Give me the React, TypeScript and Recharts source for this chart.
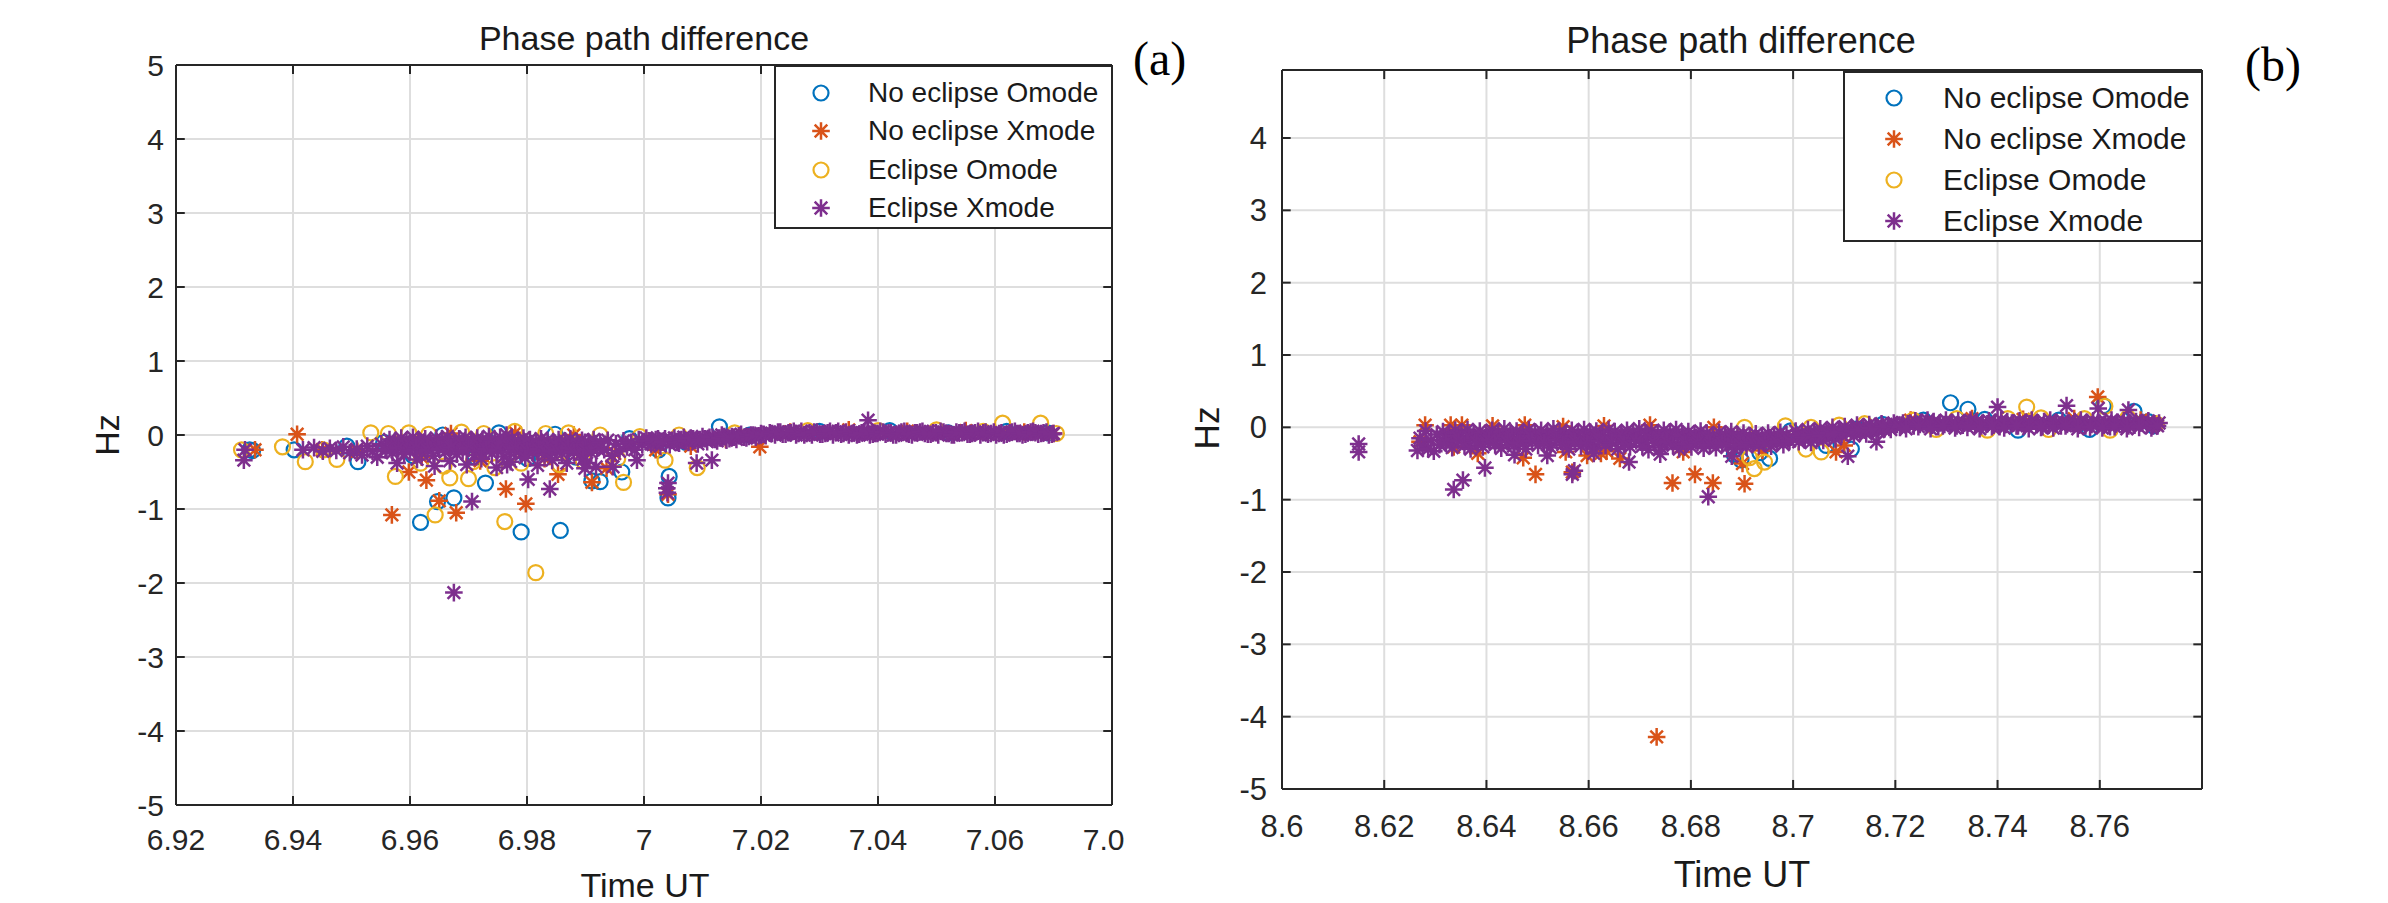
import React from "react";
import { ScatterChart, Scatter, XAxis, YAxis, CartesianGrid, ReferenceLine, Legend } from "recharts";

type Pt = [number, number];

const SERIES = ["No eclipse Omode", "No eclipse Xmode", "Eclipse Omode", "Eclipse Xmode"];
const COLORS = ["#0072BD", "#D95319", "#EDB120", "#7E2F8E"];
const MARKERS = ["o", "*", "o", "*"];

const FONT = "'Liberation Sans', Arial, Helvetica, sans-serif";
const SERIF = "'Liberation Serif', 'Times New Roman', serif";
const AXIS = "#262626";

// ---- panel (a): 6.92 - 7.08 UT ----
const aXTicks = [6.92, 6.94, 6.96, 6.98, 7.0, 7.02, 7.04, 7.06, 7.08];
const aYTicks = [-5, -4, -3, -2, -1, 0, 1, 2, 3, 4, 5];

const aNoO: Pt[] = [
  [6.9326,-0.2],[6.9331,-0.21],[6.9402,-0.2],[6.9492,-0.15],[6.9511,-0.36],[6.9555,-0.1],[6.9605,-0.28],
  [6.9618,-1.18],[6.9647,-0.9],[6.9656,0.0],[6.9675,-0.85],[6.9712,-0.3],[6.9729,-0.65],[6.9752,0.03],
  [6.979,-1.31],[6.9801,-0.32],[6.9848,0.01],[6.9857,-1.29],[6.9884,-0.3],[6.9911,-0.62],[6.9925,-0.63],
  [6.9962,-0.5],[6.9975,-0.05],[7.0025,-0.2],[7.0041,-0.85],[7.0043,-0.56],[7.0072,-0.1],[7.0129,0.11],
  [7.018,0.0],[7.03,0.05],[7.042,0.06],[7.052,0.03],[7.062,0.05],[7.069,0.03],
];

const aNoX: Pt[] = [
  [6.9335,-0.2],[6.9407,0.01],[6.945,-0.2],[6.951,-0.22],[6.9569,-1.08],[6.9585,-0.1],[6.9598,-0.5],
  [6.962,-0.3],[6.9628,-0.61],[6.965,-0.89],[6.967,0.02],[6.9679,-1.05],[6.972,-0.35],[6.9764,-0.73],
  [6.978,0.03],[6.9798,-0.93],[6.983,-0.32],[6.9853,-0.53],[6.988,0.0],[6.9911,-0.64],[6.9936,-0.45],
  [6.995,-0.25],[7.002,-0.2],[7.0041,-0.8],[7.008,-0.15],[7.014,-0.06],[7.0198,-0.16],[7.025,0.04],
  [7.035,0.07],[7.045,0.05],[7.055,0.06],[7.065,0.04],[7.07,0.02],
];

const aEclO: Pt[] = [
  [6.9312,-0.2],[6.9382,-0.16],[6.9421,-0.36],[6.9452,-0.2],[6.9475,-0.33],[6.9533,0.03],[6.9563,0.02],
  [6.9575,-0.56],[6.9598,0.03],[6.9618,-0.38],[6.9632,0.01],[6.9643,-1.08],[6.9658,-0.42],[6.9668,-0.58],
  [6.9688,0.04],[6.97,-0.59],[6.9708,-0.36],[6.9726,0.02],[6.9745,-0.44],[6.9762,-1.17],[6.9779,0.05],
  [6.979,-0.38],[6.9815,-1.86],[6.9832,0.02],[6.9856,-0.4],[6.9871,0.03],[6.9896,-0.35],[6.9925,0.0],
  [6.9955,-0.32],[6.9965,-0.64],[6.9993,-0.02],[7.0036,-0.34],[7.006,0.0],[7.0091,-0.44],[7.0155,0.03],
  [7.028,0.06],[7.04,0.06],[7.05,0.07],[7.058,0.05],[7.0613,0.16],[7.0678,0.16],[7.0705,0.02],
];

const aEclXLead: Pt[] = [
  [6.9316,-0.34],[6.9318,-0.2],[6.9417,-0.2],[6.9436,-0.17],[6.9451,-0.22],[6.9463,-0.18],[6.9474,-0.21],
  [6.9486,-0.16],[6.9497,-0.24],[6.9509,-0.19],[6.9518,-0.27],[6.9527,-0.15],[6.9536,-0.22],[6.9544,-0.3],
  [6.9551,-0.12],[6.9558,-0.2],
];
const aEclXUpper: Pt[] = [
  [6.9565,-0.06],[6.9574,-0.09],[6.9585,-0.04],[6.9594,-0.08],[6.9605,-0.03],[6.9614,-0.07],[6.9626,-0.05],
  [6.9634,-0.1],[6.9645,-0.04],[6.9655,-0.06],[6.9664,-0.02],[6.9675,-0.08],[6.9684,-0.05],[6.9695,-0.03],
  [6.9704,-0.09],[6.9715,-0.04],[6.9724,-0.06],[6.9735,-0.02],[6.9745,-0.07],[6.9754,-0.03],[6.9765,0.0],
  [6.9774,-0.05],[6.9785,-0.08],[6.9794,-0.04],[6.9805,-0.06],[6.9815,-0.09],[6.9824,-0.05],[6.9835,-0.07],
  [6.9845,-0.1],[6.9854,-0.06],[6.9865,-0.08],[6.9874,-0.05],[6.9885,-0.09],[6.9894,-0.07],[6.9905,-0.1],
  [6.9914,-0.06],
];
const aEclXMid: Pt[] = [
  [6.9568,-0.13],[6.9579,-0.11],[6.9587,-0.15],[6.9599,-0.12],[6.9608,-0.16],[6.9617,-0.1],[6.9629,-0.14],
  [6.9637,-0.12],[6.9648,-0.15],[6.9659,-0.13],[6.9667,-0.11],[6.9678,-0.16],[6.9689,-0.12],[6.9697,-0.14],
  [6.9708,-0.1],[6.9719,-0.15],[6.9727,-0.13],[6.9738,-0.12],[6.9749,-0.16],[6.9757,-0.11],[6.9768,-0.14],
  [6.9779,-0.13],[6.9787,-0.15],[6.9798,-0.1],[6.9809,-0.12],[6.9817,-0.16],[6.9828,-0.13],[6.9839,-0.14],
  [6.9847,-0.11],[6.9858,-0.15],[6.9869,-0.12],[6.9877,-0.16],[6.9888,-0.13],[6.9899,-0.1],[6.9907,-0.14],
  [6.9918,-0.12],
];
const aEclXLower: Pt[] = [
  [6.956,-0.2],[6.957,-0.24],[6.958,-0.18],[6.959,-0.26],[6.96,-0.21],[6.961,-0.17],[6.962,-0.25],
  [6.963,-0.2],[6.964,-0.28],[6.965,-0.19],[6.966,-0.23],[6.967,-0.17],[6.968,-0.26],[6.969,-0.21],
  [6.97,-0.18],[6.971,-0.27],[6.972,-0.22],[6.973,-0.19],[6.974,-0.25],[6.975,-0.2],[6.976,-0.29],
  [6.977,-0.23],[6.978,-0.18],[6.979,-0.26],[6.98,-0.21],[6.981,-0.24],[6.982,-0.19],[6.983,-0.27],
  [6.984,-0.22],[6.985,-0.2],[6.986,-0.25],[6.987,-0.18],[6.988,-0.23],[6.989,-0.27],[6.99,-0.2],
  [6.991,-0.24],[6.992,-0.18],
];
const aEclXSparse: Pt[] = [
  [6.9578,-0.38],[6.9612,-0.33],[6.9642,-0.42],[6.9668,-0.35],[6.9697,-0.4],[6.9722,-0.32],[6.9748,-0.44],
  [6.9766,-0.4],[6.9772,-0.36],[6.9797,-0.31],[6.9818,-0.41],[6.9843,-0.34],[6.9868,-0.38],[6.9896,-0.33],
  [6.9902,-0.38],[6.9918,-0.43],
];
const aEclXRise: Pt[] = [
  [6.9925,-0.1],[6.9932,-0.2],[6.9938,-0.07],[6.9945,-0.28],[6.9947,-0.43],[6.9952,-0.12],[6.9958,-0.22],
  [6.9965,-0.08],[6.9971,-0.16],[6.9978,-0.1],[6.9984,-0.2],[6.9988,-0.34],[6.9991,-0.06],[6.9997,-0.13],
  [7.0004,-0.04],[7.0012,-0.12],[7.002,-0.06],[7.0028,-0.15],[7.0036,-0.05],[7.0039,-0.72],[7.004,-0.78],
  [7.0041,-0.65],[7.0044,-0.13],[7.0052,-0.04],[7.006,-0.11],[7.0068,-0.03],[7.0076,-0.1],[7.0084,-0.05],
  [7.009,-0.38],[7.0092,-0.12],[7.01,-0.02],[7.0108,-0.09],[7.0116,-0.34],[7.0117,-0.03],[7.0125,-0.08],
  [7.0133,0.0],[7.0141,-0.07],[7.015,-0.02],[7.0158,-0.06],[7.0166,0.01],[7.0175,-0.04],[7.0183,0.0],
  [7.0191,-0.03],[7.02,0.02],[7.0208,-0.01],
];
const aEclXRiseMid: Pt[] = [
  [7.0008,-0.08],[7.0016,-0.1],[7.0024,-0.05],[7.0032,-0.09],[7.0048,-0.07],[7.0056,-0.1],[7.0064,-0.06],
  [7.0072,-0.08],[7.008,-0.04],[7.0088,-0.07],[7.0096,-0.06],[7.0104,-0.05],[7.0112,-0.03],[7.0121,-0.06],
  [7.0129,-0.04],[7.0137,-0.02],[7.0146,-0.05],[7.0154,-0.03],[7.0162,-0.01],[7.0171,-0.03],[7.0179,-0.02],
  [7.0187,0.0],[7.0196,-0.01],[7.0204,0.01],
];
const aEclXFlat: Pt[] = [
  [7.0215,0.03],[7.0224,0.0],[7.0233,0.04],[7.0242,0.01],[7.0251,0.03],[7.026,0.0],[7.0269,0.05],
  [7.0278,0.02],[7.0287,0.0],[7.0296,0.04],[7.0305,0.01],[7.0314,0.03],[7.0323,0.0],[7.0332,0.05],
  [7.0341,0.02],[7.035,0.0],[7.0359,0.03],[7.0368,0.01],[7.0377,0.04],[7.0383,0.2],[7.0386,0.0],
  [7.0395,0.02],[7.0404,0.05],[7.0413,0.01],[7.0422,0.03],[7.0431,0.0],[7.044,0.04],[7.0449,0.02],
  [7.0458,0.0],[7.0467,0.03],[7.0476,0.05],[7.0485,0.01],[7.0494,0.03],[7.0503,0.0],[7.0512,0.04],
  [7.0521,0.02],[7.053,0.0],[7.0539,0.03],[7.0548,0.05],[7.0557,0.01],[7.0566,0.03],[7.0575,0.0],
  [7.0584,0.04],[7.0593,0.02],[7.0602,0.0],[7.0611,0.03],[7.062,0.01],[7.0629,0.04],[7.0638,0.02],
  [7.0647,0.0],[7.0656,0.03],[7.0665,0.05],[7.0674,0.01],[7.0683,0.03],[7.0692,0.0],[7.07,0.02],
];
const aEclXFlat2: Pt[] = [
  [7.0219,0.02],[7.0229,0.04],[7.0237,0.01],[7.0247,0.03],[7.0256,0.05],[7.0264,0.02],[7.0274,0.0],
  [7.0283,0.03],[7.0291,0.04],[7.0301,0.01],[7.031,0.02],[7.0318,0.05],[7.0328,0.03],[7.0337,0.01],
  [7.0345,0.04],[7.0355,0.02],[7.0364,0.0],[7.0372,0.03],[7.0382,0.05],[7.0391,0.01],[7.0399,0.02],
  [7.0409,0.04],[7.0418,0.03],[7.0426,0.0],[7.0436,0.02],[7.0445,0.05],[7.0453,0.01],[7.0463,0.03],
  [7.0472,0.04],[7.048,0.02],[7.049,0.01],[7.0499,0.03],[7.0507,0.05],[7.0517,0.02],[7.0526,0.0],
  [7.0534,0.04],[7.0544,0.03],[7.0553,0.01],[7.0561,0.02],[7.0571,0.05],[7.058,0.03],[7.0588,0.01],
  [7.0598,0.04],[7.0607,0.02],[7.0615,0.0],[7.0625,0.03],[7.0634,0.05],[7.0642,0.02],[7.0652,0.01],
  [7.0661,0.04],[7.0669,0.03],[7.0679,0.02],[7.0688,0.04],[7.0697,0.01],
];
const aEclXOut: Pt[] = [
  [6.9675,-2.13],[6.9706,-0.9],[6.9802,-0.6],[6.9839,-0.73],[6.9899,-0.45],
];
const aEclX: Pt[] = [
  ...aEclXLead, ...aEclXUpper, ...aEclXMid, ...aEclXLower, ...aEclXSparse,
  ...aEclXRise, ...aEclXRiseMid, ...aEclXFlat, ...aEclXFlat2, ...aEclXOut,
];

// ---- panel (b): 8.60 - 8.78 UT ----
const bXTicks = [8.6, 8.62, 8.64, 8.66, 8.68, 8.7, 8.72, 8.74, 8.76];
const bYTicks = [-5, -4, -3, -2, -1, 0, 1, 2, 3, 4];

const bNoO: Pt[] = [
  [8.6885,-0.38],[8.6898,-0.45],[8.6935,-0.35],[8.6954,-0.43],[8.6995,-0.05],[8.7065,-0.25],[8.7114,-0.3],
  [8.7125,-0.02],[8.7175,0.04],[8.7255,0.1],[8.7308,0.34],[8.7342,0.25],[8.7375,0.11],[8.744,-0.04],
  [8.752,0.1],[8.758,-0.03],[8.7607,0.3],[8.7667,0.22],[8.7695,0.08],[8.7705,0.02],
];

const bNoX: Pt[] = [
  [8.627,-0.2],[8.628,0.03],[8.633,0.03],[8.6336,-0.27],[8.6352,0.03],[8.6383,-0.36],[8.6412,0.02],
  [8.6472,-0.42],[8.6475,0.03],[8.6496,-0.65],[8.655,0.01],[8.6555,-0.34],[8.6568,-0.62],[8.6597,-0.39],
  [8.6624,-0.36],[8.663,0.02],[8.6635,-0.33],[8.6661,-0.43],[8.672,0.03],[8.6733,-4.28],[8.6764,-0.77],
  [8.6785,-0.34],[8.6808,-0.65],[8.6843,-0.77],[8.6845,0.0],[8.6901,-0.5],[8.6905,-0.78],[8.694,-0.32],
  [8.7084,-0.34],[8.71,-0.25],[8.723,0.1],[8.735,0.12],[8.745,0.11],[8.755,0.12],[8.7596,0.42],
  [8.768,0.1],[8.771,0.04],
];

const bEclO: Pt[] = [
  [8.6905,0.0],[8.6915,-0.42],[8.6924,-0.57],[8.6944,-0.48],[8.6985,0.02],[8.7025,-0.3],[8.7035,0.0],
  [8.7055,-0.34],[8.709,0.03],[8.714,0.05],[8.7235,0.1],[8.728,-0.03],[8.732,0.12],[8.738,-0.04],
  [8.742,0.12],[8.7457,0.28],[8.7485,0.13],[8.75,-0.03],[8.757,0.12],[8.761,0.29],[8.762,-0.04],
  [8.7655,0.13],[8.771,0.05],
];

const bEclXLead: Pt[] = [
  [8.615,-0.23],[8.615,-0.34],[8.6265,-0.32],[8.627,-0.15],[8.6275,-0.25],[8.6281,-0.05],[8.6286,-0.3],
  [8.6292,-0.18],[8.6297,-0.33],[8.6303,-0.1],[8.6308,-0.24],
];
const bEclXUpper: Pt[] = [
  [8.6315,-0.06],[8.6327,-0.1],[8.6339,-0.04],[8.6351,-0.08],[8.6363,-0.03],[8.6375,-0.09],[8.6387,-0.05],
  [8.6399,-0.11],[8.6411,-0.04],[8.6423,-0.07],[8.6435,-0.02],[8.6447,-0.08],[8.6459,-0.05],[8.6471,-0.1],
  [8.6483,-0.03],[8.6495,-0.07],[8.6507,-0.04],[8.6519,-0.09],[8.6531,-0.02],[8.6543,-0.06],[8.6555,-0.1],
  [8.6567,-0.04],[8.6579,-0.08],[8.6591,-0.03],[8.6603,-0.07],[8.6615,-0.05],[8.6627,-0.1],[8.6639,-0.03],
  [8.6651,-0.06],[8.6663,-0.09],[8.6675,-0.04],[8.6687,-0.07],[8.6699,-0.02],[8.6711,-0.08],[8.6723,-0.05],
  [8.6735,-0.1],[8.6747,-0.04],[8.6759,-0.07],[8.6771,-0.03],[8.6783,-0.09],[8.6795,-0.06],[8.6807,-0.1],
  [8.6819,-0.05],[8.6831,-0.08],[8.6843,-0.12],[8.6855,-0.07],[8.6867,-0.1],[8.6879,-0.06],[8.6891,-0.11],
  [8.6903,-0.08],[8.6915,-0.12],[8.6927,-0.09],[8.6939,-0.13],[8.6951,-0.08],[8.6963,-0.11],[8.6975,-0.07],
  [8.6987,-0.1],
];
const bEclXMid: Pt[] = [
  [8.6318,-0.14],[8.633,-0.17],[8.6342,-0.12],[8.6354,-0.16],[8.6366,-0.13],[8.6378,-0.18],[8.639,-0.15],
  [8.6402,-0.12],[8.6414,-0.17],[8.6426,-0.14],[8.6438,-0.16],[8.645,-0.13],[8.6462,-0.19],[8.6474,-0.15],
  [8.6486,-0.12],[8.6498,-0.16],[8.651,-0.14],[8.6522,-0.18],[8.6534,-0.13],[8.6546,-0.15],[8.6558,-0.17],
  [8.657,-0.12],[8.6582,-0.16],[8.6594,-0.14],[8.6606,-0.19],[8.6618,-0.13],[8.663,-0.15],[8.6642,-0.17],
  [8.6654,-0.14],[8.6666,-0.12],[8.6678,-0.18],[8.669,-0.15],[8.6702,-0.16],[8.6714,-0.13],[8.6726,-0.17],
  [8.6738,-0.14],[8.675,-0.19],[8.6762,-0.15],[8.6774,-0.13],[8.6786,-0.16],[8.6798,-0.18],[8.681,-0.14],
  [8.6822,-0.17],[8.6834,-0.15],[8.6846,-0.19],[8.6858,-0.16],[8.687,-0.14],[8.6882,-0.18],[8.6894,-0.17],
  [8.6906,-0.15],[8.6918,-0.19],[8.693,-0.16],[8.6942,-0.18],[8.6954,-0.15],[8.6966,-0.17],[8.6978,-0.14],
  [8.699,-0.16],
];
const bEclXLower: Pt[] = [
  [8.6321,-0.22],[8.6333,-0.28],[8.6345,-0.19],[8.6357,-0.25],[8.6369,-0.3],[8.6381,-0.21],[8.6393,-0.27],
  [8.6405,-0.18],[8.6417,-0.24],[8.6429,-0.29],[8.6441,-0.2],[8.6453,-0.26],[8.6465,-0.22],[8.6477,-0.3],
  [8.6489,-0.19],[8.6501,-0.25],[8.6513,-0.21],[8.6525,-0.28],[8.6537,-0.18],[8.6549,-0.24],[8.6561,-0.3],
  [8.6573,-0.2],[8.6585,-0.26],[8.6597,-0.22],[8.6609,-0.29],[8.6621,-0.19],[8.6633,-0.25],[8.6645,-0.21],
  [8.6657,-0.3],[8.6669,-0.23],[8.6681,-0.27],[8.6693,-0.19],[8.6705,-0.26],[8.6717,-0.31],[8.6729,-0.22],
  [8.6741,-0.28],[8.6753,-0.2],[8.6765,-0.25],[8.6777,-0.3],[8.6789,-0.23],[8.6801,-0.27],[8.6813,-0.21],
  [8.6825,-0.29],[8.6837,-0.24],[8.6849,-0.28],[8.6861,-0.22],[8.6873,-0.26],[8.6885,-0.3],[8.6897,-0.24],
  [8.6909,-0.27],[8.6921,-0.21],[8.6933,-0.25],[8.6945,-0.22],[8.6957,-0.26],[8.6969,-0.2],[8.6981,-0.24],
  [8.6993,-0.19],
];
const bEclXSparse: Pt[] = [
  [8.6336,-0.86],[8.6354,-0.73],[8.6397,-0.56],[8.6455,-0.38],[8.6519,-0.39],[8.6568,-0.65],[8.6572,-0.6],
  [8.661,-0.36],[8.6679,-0.48],[8.674,-0.37],[8.6834,-0.96],[8.688,-0.4],
];
const bEclXRise: Pt[] = [
  [8.7005,-0.05],[8.7017,-0.08],[8.7029,-0.03],[8.7041,-0.06],[8.7053,-0.02],[8.7065,-0.05],[8.7077,0.0],
  [8.7089,-0.04],[8.7101,0.01],[8.7113,-0.02],[8.7125,0.03],[8.7137,0.0],[8.7149,0.04],[8.7161,0.01],
  [8.7173,0.05],[8.7185,0.02],[8.7197,0.06],
  [8.7011,-0.2],[8.7023,-0.17],[8.7035,-0.21],[8.7047,-0.15],[8.7059,-0.18],[8.7071,-0.13],[8.7083,-0.16],
  [8.7095,-0.1],[8.7107,-0.4],[8.7119,-0.12],[8.7131,-0.07],[8.7143,-0.09],[8.7155,-0.04],[8.7163,-0.2],
  [8.7167,-0.06],[8.7179,-0.02],[8.7191,-0.03],
  [8.7008,-0.12],[8.702,-0.14],[8.7032,-0.11],[8.7044,-0.1],[8.7056,-0.12],[8.7068,-0.08],[8.708,-0.09],
  [8.7092,-0.06],[8.7104,-0.07],[8.7116,-0.05],[8.7128,-0.03],[8.714,-0.04],[8.7152,-0.01],[8.7164,-0.02],
  [8.7176,0.01],[8.7188,0.0],[8.72,0.02],
];
const bEclXFlatTop: Pt[] = [
  [8.7203,0.04],[8.7215,0.06],[8.7227,0.05],[8.7239,0.09],[8.7251,0.07],[8.7263,0.1],[8.7275,0.08],
  [8.7287,0.06],[8.7299,0.1],[8.7311,0.07],[8.7323,0.09],[8.7335,0.06],[8.7347,0.1],[8.7359,0.08],
  [8.7371,0.06],[8.7383,0.09],[8.7395,0.07],[8.7407,0.1],[8.7419,0.08],[8.7431,0.06],[8.7443,0.09],
  [8.7455,0.07],[8.7467,0.1],[8.7479,0.06],[8.7491,0.08],[8.7503,0.1],[8.7515,0.07],[8.7527,0.09],
  [8.7539,0.06],[8.7551,0.08],[8.7563,0.1],[8.7575,0.07],[8.7587,0.09],[8.7599,0.06],[8.7611,0.08],
  [8.7623,0.1],[8.7635,0.07],[8.7647,0.09],[8.7659,0.06],[8.7671,0.08],[8.7683,0.07],[8.7695,0.09],
  [8.7707,0.05],[8.7716,0.06],
];
const bEclXFlatMid: Pt[] = [
  [8.7212,0.03],[8.7224,0.05],[8.7236,0.02],[8.7248,0.04],[8.726,0.06],[8.7272,0.03],[8.7284,0.01],
  [8.7296,0.04],[8.7308,0.05],[8.732,0.02],[8.7332,0.03],[8.7344,0.06],[8.7356,0.04],[8.7368,0.02],
  [8.738,0.05],[8.7392,0.03],[8.7404,0.01],[8.7416,0.04],[8.7428,0.06],[8.744,0.02],[8.7452,0.03],
  [8.7464,0.05],[8.7476,0.04],[8.7488,0.01],[8.75,0.03],[8.7512,0.06],[8.7524,0.02],[8.7536,0.04],
  [8.7548,0.05],[8.756,0.03],[8.7572,0.02],[8.7584,0.04],[8.7596,0.06],[8.7608,0.03],[8.762,0.01],
  [8.7632,0.05],[8.7644,0.04],[8.7656,0.02],[8.7668,0.03],[8.768,0.06],[8.7692,0.04],[8.7704,0.02],
];
const bEclXFlatLow: Pt[] = [
  [8.7209,0.0],[8.7221,-0.02],[8.7245,0.01],[8.7269,-0.02],[8.7293,0.02],[8.7317,-0.01],[8.7341,0.0],
  [8.7365,-0.02],[8.7389,0.01],[8.7413,-0.01],[8.7437,0.02],[8.7461,-0.02],[8.7485,0.0],[8.7509,-0.01],
  [8.7533,0.02],[8.7557,-0.02],[8.7581,0.0],[8.7605,-0.01],[8.7629,0.01],[8.7653,-0.02],[8.7677,0.0],
  [8.7701,-0.01],[8.7713,0.02],
];
const bEclXOut: Pt[] = [[8.74,0.28],[8.7535,0.3],[8.7597,0.26],[8.7656,0.24]];
const bEclX: Pt[] = [
  ...bEclXLead, ...bEclXUpper, ...bEclXMid, ...bEclXLower, ...bEclXSparse,
  ...bEclXRise, ...bEclXFlatTop, ...bEclXFlatMid, ...bEclXFlatLow, ...bEclXOut,
];

const rows = (pts: Pt[]) => pts.map(([t, v]) => ({ t, v }));
const fmt = (v: number) => String(parseFloat(v.toFixed(2)));

function Marker({ cx, cy, kind, color }: { cx: number; cy: number; kind: string; color: string }) {
  if (kind === "o") return <circle cx={cx} cy={cy} r={7.5} fill="none" stroke={color} strokeWidth={2.2} />;
  const r = 8.8, d = 6.3;
  return (
    <path
      d={`M${cx - r} ${cy}H${cx + r}M${cx} ${cy - r}V${cy + r}M${cx - d} ${cy - d}L${cx + d} ${cy + d}M${cx - d} ${cy + d}L${cx + d} ${cy - d}`}
      stroke={color}
      strokeWidth={2.5}
      fill="none"
    />
  );
}

function LegendBox({ w, h, font, mx, tx, rowY }: { w: number; h: number; font: number; mx: number; tx: number; rowY: number[] }) {
  return (
    <div style={{ position: "relative", width: w, height: h, boxSizing: "border-box", border: `2px solid ${AXIS}`, background: "#fff", fontFamily: FONT, fontSize: font, color: "#1a1a1a" }}>
      {SERIES.map((name, i) => (
        <div key={name} style={{ position: "absolute", left: -2, top: rowY[i] - 22, width: w, height: 40 }}>
          <svg width={w} height={40} style={{ position: "absolute", left: 0, top: 0 }}>
            <Marker cx={mx} cy={20} kind={MARKERS[i]} color={COLORS[i]} />
          </svg>
          <span style={{ position: "absolute", left: tx, top: 0, lineHeight: "40px", whiteSpace: "nowrap" }}>{name}</span>
        </div>
      ))}
    </div>
  );
}

type PanelProps = {
  width: number;
  margin: { top: number; right: number; bottom: number; left: number };
  xDomain: [number, number];
  yDomain: [number, number];
  xTicks: number[];
  yTicks: number[];
  series: Pt[][];
  tickFont: number;
  xTickMargin: number;
  yTickMargin: number;
  tickX: number;
  tickY: number;
  legend: { left: number; top: number; w: number; h: number; font: number; mx: number; tx: number; rowY: number[] };
};

function Panel(p: PanelProps) {
  const [x0, x1] = p.xDomain;
  const [y0, y1] = p.yDomain;
  const tickStyle = { fill: AXIS, fontSize: p.tickFont, fontFamily: FONT };
  const line = { stroke: AXIS, strokeWidth: 2 };
  return (
    <ScatterChart width={p.width} height={903} margin={p.margin}>
      <CartesianGrid stroke="#dedede" strokeWidth={2} />
      <XAxis
        type="number" dataKey="t" domain={p.xDomain} ticks={p.xTicks} allowDataOverflow interval={0}
        tickFormatter={fmt} tickLine={false} tickSize={0} tickMargin={p.xTickMargin} height={60}
        axisLine={line} tick={tickStyle}
      />
      <YAxis
        type="number" dataKey="v" domain={p.yDomain} ticks={p.yTicks} allowDataOverflow interval={0}
        tickFormatter={fmt} tickLine={false} tickSize={0} tickMargin={p.yTickMargin} width={100}
        axisLine={line} tick={tickStyle}
      />
      <ReferenceLine y={y1} {...line} />
      <ReferenceLine x={x1} {...line} />
      {p.xTicks.map((t) => (
        <ReferenceLine key={`xb${t}`} segment={[{ x: t, y: y0 }, { x: t, y: y0 + p.tickY }]} {...line} />
      ))}
      {p.xTicks.map((t) => (
        <ReferenceLine key={`xt${t}`} segment={[{ x: t, y: y1 }, { x: t, y: y1 - p.tickY }]} {...line} />
      ))}
      {p.yTicks.map((v) => (
        <ReferenceLine key={`yl${v}`} segment={[{ x: x0, y: v }, { x: x0 + p.tickX, y: v }]} {...line} />
      ))}
      {p.yTicks.map((v) => (
        <ReferenceLine key={`yr${v}`} segment={[{ x: x1, y: v }, { x: x1 - p.tickX, y: v }]} {...line} />
      ))}
      {p.series.map((d, i) => (
        <Scatter
          key={SERIES[i]}
          name={SERIES[i]}
          data={rows(d)}
          fill={COLORS[i]}
          isAnimationActive={false}
          shape={(s: any) => <Marker cx={s.cx} cy={s.cy} kind={MARKERS[i]} color={COLORS[i]} />}
        />
      ))}
      <Legend
        layout="vertical"
        verticalAlign="middle"
        align="center"
        wrapperStyle={{ left: p.legend.left, top: p.legend.top, width: p.legend.w, height: p.legend.h }}
        content={() => <LegendBox {...p.legend} />}
      />
    </ScatterChart>
  );
}

export default function App() {
  return (
    <div style={{ position: "absolute", left: 0, top: 0, width: 2388, height: 903, background: "#fff", overflow: "hidden" }}>
      <div style={{ position: "absolute", left: 0, top: 0, width: 1125, height: 903, overflow: "hidden" }}>
        <Panel
          width={1125}
          margin={{ top: 65, right: 13, bottom: 38, left: 76 }}
          xDomain={[6.92, 7.08]}
          yDomain={[-5, 5]}
          xTicks={aXTicks}
          yTicks={aYTicks}
          series={[aNoO, aNoX, aEclO, aEclX]}
          tickFont={30}
          xTickMargin={24}
          yTickMargin={12}
          tickX={0.0015}
          tickY={0.12}
          legend={{ left: 774, top: 65, w: 339, h: 164, font: 28, mx: 47, tx: 94, rowY: [28, 66, 105, 143] }}
        />
      </div>
      <div style={{ position: "absolute", left: 1130, top: 0, width: 1258, height: 903, overflow: "hidden" }}>
        <Panel
          width={1258}
          margin={{ top: 70, right: 186, bottom: 54, left: 52 }}
          xDomain={[8.6, 8.78]}
          yDomain={[-5, 4.94]}
          xTicks={bXTicks}
          yTicks={bYTicks}
          series={[bNoO, bNoX, bEclO, bEclX]}
          tickFont={31}
          xTickMargin={26}
          yTickMargin={15}
          tickX={0.0017}
          tickY={0.125}
          legend={{ left: 713, top: 71, w: 360, h: 171, font: 30, mx: 51, tx: 100, rowY: [27, 68, 109, 150] }}
        />
      </div>
      <svg width={2388} height={903} style={{ position: "absolute", left: 0, top: 0, pointerEvents: "none" }}>
        <g fontFamily={FONT} fill="#1a1a1a" textAnchor="middle">
          <text x={644} y={50} fontSize={34}>Phase path difference</text>
          <text x={1741} y={53} fontSize={36}>Phase path difference</text>
          <text x={645} y={897} fontSize={34}>Time UT</text>
          <text x={1742} y={887} fontSize={36}>Time UT</text>
          <text x={119} y={435} fontSize={34} transform="rotate(-90 119 435)">Hz</text>
          <text x={1219} y={428} fontSize={35} transform="rotate(-90 1219 428)">Hz</text>
        </g>
        <g fontFamily={SERIF} fill="#000" fontSize={48}>
          <text x={1133} y={75}>(a)</text>
          <text x={2245} y={81}>(b)</text>
        </g>
      </svg>
    </div>
  );
}
